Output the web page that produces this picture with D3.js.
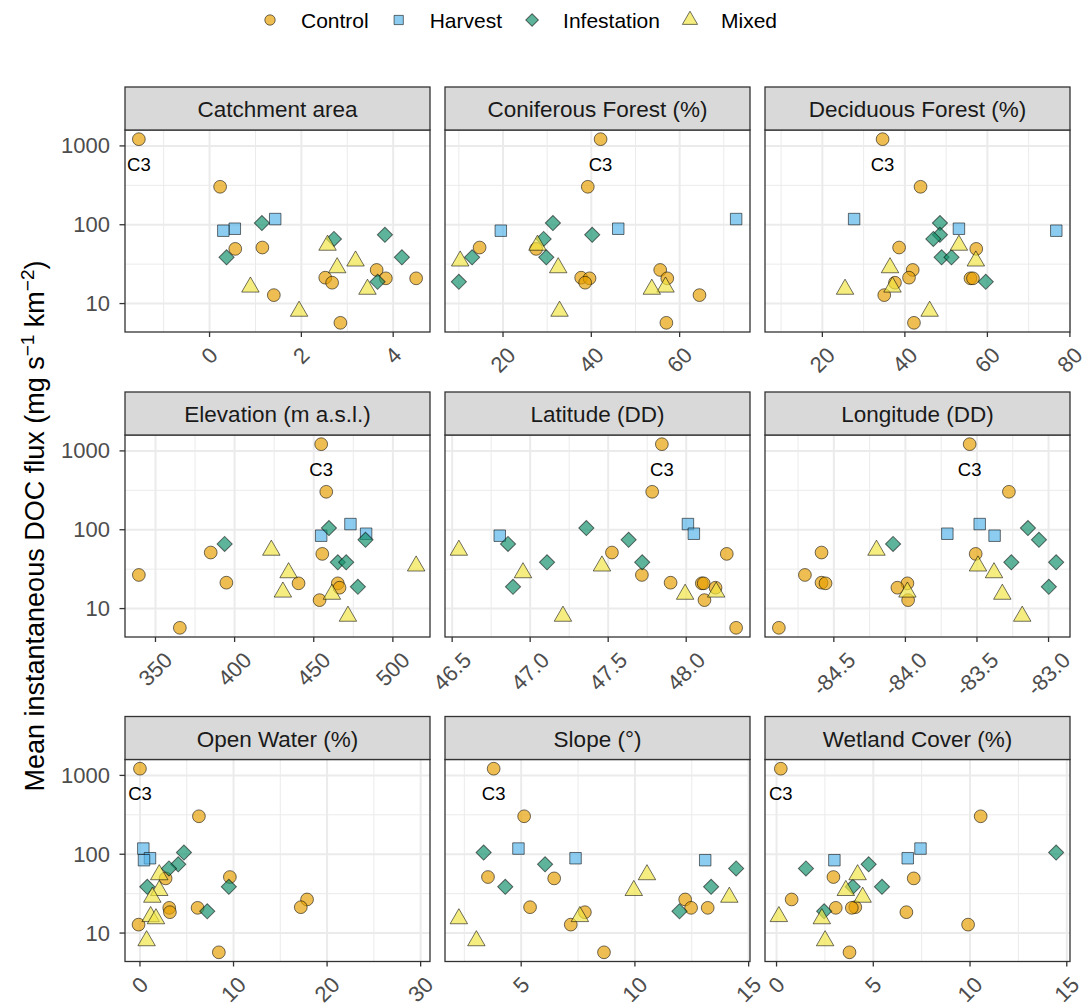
<!DOCTYPE html>
<html><head><meta charset="utf-8">
<script src="https://cdn.jsdelivr.net/npm/d3@7"></script>
<style>
body{margin:0;background:#fff}
text{font-family:"Liberation Sans",Arial,Helvetica,sans-serif}
</style>
</head><body>
<svg id="chart" width="1086" height="1004"></svg>
<script>
// ---------------- DATA ----------------
const treatments = ["Control", "Harvest", "Infestation", "Mixed"];
const treatmentColors = ["#E69F00", "#56B4E9", "#12916A", "#F0E442"];

// one entry per site
const siteTreatment = [
  "Control","Control","Control","Control","Control","Control","Control","Control","Control","Control","Control",
  "Harvest","Harvest","Harvest",
  "Infestation","Infestation","Infestation","Infestation","Infestation","Infestation",
  "Mixed","Mixed","Mixed","Mixed","Mixed","Mixed"
];
const siteLabel = ["C3","","","","","","","","","","","","","","","","","","","","","","","","",""];
const docFlux = [1217, 303, 51.4, 49.4, 26.7, 21.3, 20.9, 20.9, 18.4, 12.8, 5.7,
                 118, 89, 84,
                 105, 74.5, 66, 38.6, 38.6, 18.9,
                 55, 34.7, 28.5, 16.2, 15.2, 8.0];

const catchmentArea = [-1.54, 0.23, 1.15, 0.56, 3.64, 2.52, 3.84, 4.50, 2.67, 1.40, 2.85,
                       1.43, 0.55, 0.30,
                       1.14, 3.82, 2.71, 0.37, 4.19, 3.66,
                       2.57, 3.18, 2.78, 0.89, 3.44, 1.95];
const coniferousForest = [42.1, 39.2, 14.7, 27.5, 55.6, 37.7, 39.6, 57.2, 38.6, 64.5, 57.0,
                          72.8, 46.1, 19.5,
                          31.3, 40.2, 29.2, 13.0, 29.8, 10.0,
                          27.8, 10.3, 32.5, 56.8, 53.7, 32.8];
const deciduousForest = [34.6, 43.8, 38.6, 57.3, 41.9, 41.0, 55.9, 56.5, 37.6, 35.0, 42.2,
                         27.7, 53.1, 76.7,
                         48.5, 48.5, 46.9, 48.9, 51.3, 59.6,
                         53.1, 57.2, 36.4, 37.0, 25.5, 46.0];
const elevation = [454.7, 457.9, 384.9, 455.4, 339.5, 394.8, 440.4, 465.2, 466.3, 453.7, 365.4,
                   473.2, 483.1, 454.7,
                   459.6, 482.7, 393.7, 465.2, 470.5, 477.9,
                   423.2, 514.7, 434.1, 430.5, 461.5, 471.6];
const latitude = [47.844, 47.782, 47.524, 48.260, 47.716, 47.900, 48.100, 48.112, 48.188, 48.117, 48.320,
                  48.011, 48.049, 46.805,
                  47.360, 47.631, 46.858, 47.108, 47.718, 46.890,
                  46.543, 47.460, 46.954, 48.192, 47.993, 47.210];
const longitude = [-83.551, -83.277, -84.586, -83.509, -84.702, -84.586, -84.558, -83.986, -84.056, -83.981, -84.884,
                   -83.481, -83.707, -83.377,
                   -83.144, -83.067, -84.086, -83.260, -82.947, -82.998,
                   -84.202, -83.493, -83.381, -83.986, -83.323, -83.184];
const openWater = [0.0, 6.30, 9.61, 2.74, 17.86, 17.19, 3.13, 6.16, 3.20, -0.15, 8.43,
                   0.36, 1.07, 0.43,
                   4.70, 4.09, 3.10, 0.78, 9.50, 7.19,
                   2.06, 2.06, 1.32, 1.14, 1.71, 0.71];
const slope = [3.79, 5.13, 3.54, 6.45, 12.21, 5.39, 12.47, 13.20, 7.80, 7.18, 8.64,
               4.88, 7.39, 13.09,
               3.35, 6.05, 14.45, 4.30, 13.35, 11.96,
               10.53, 9.95, 14.15, 7.58, 2.26, 3.03];
const wetlandCover = [0.22, 10.55, 2.94, 7.09, 0.78, 4.07, 3.06, 3.89, 6.71, 9.90, 3.77,
                      7.44, 6.78, 2.99,
                      14.45, 4.76, 1.52, 5.45, 3.94, 2.46,
                      4.19, 3.58, 4.45, 0.12, 2.34, 2.51];

const facetTitles = ["Catchment area", "Coniferous Forest (%)", "Deciduous Forest (%)",
                     "Elevation (m a.s.l.)", "Latitude (DD)", "Longitude (DD)",
                     "Open Water (%)", "Slope (°)", "Wetland Cover (%)"];
const facetValues = [catchmentArea, coniferousForest, deciduousForest,
                     elevation, latitude, longitude,
                     openWater, slope, wetlandCover];
const facetTicks = [[0,2,4], [20,40,60], [20,40,60,80],
                    [350,400,450,500], [46.5,47.0,47.5,48.0], [-84.5,-84.0,-83.5,-83.0],
                    [0,10,20,30], [5,10,15], [0,5,10,15]];
const facetTickLabels = [["0","2","4"], ["20","40","60"], ["20","40","60","80"],
                         ["350","400","450","500"], ["46.5","47.0","47.5","48.0"], ["-84.5","-84.0","-83.5","-83.0"],
                         ["0","10","20","30"], ["5","10","15"], ["0","5","10","15"]];
// x limits that extend beyond the plotted points (null = data range + 5%)
const facetLimits = [null, null, [6.1, 80.02], null, null, null, [-1.6, 31.0], null, null];

const yTicks = [10, 100, 1000];
const yTickLabels = ["10", "100", "1000"];

// ---------------- LAYOUT ----------------
const svg = d3.select("#chart");
const colX = [125, 445, 765];
const rowTop = [87, 392, 716.5];
const panelW = 305, stripH = 43, plotH = 202;
const fontLegend = 21, fontAxis = 22, fontStrip = 22.5;

const color = d3.scaleOrdinal().domain(treatments).range(treatmentColors);
const symbolFor = {
  "Control": d3.symbolCircle,
  "Harvest": d3.symbolSquare,
  "Infestation": d3.symbolSquare,
  "Mixed": d3.symbolTriangle
};
const sizeFor = {"Control": 128, "Harvest": 132, "Infestation": 115, "Mixed": 132};
const rotFor = {"Control": 0, "Harvest": 0, "Infestation": 45, "Mixed": 0};

// y scale: log, data range + 5% expansion in log space
const logs = docFlux.map(Math.log10);
const lmin = d3.min(logs), lmax = d3.max(logs), lr = lmax - lmin;
const y = d3.scaleLog()
  .domain([Math.pow(10, lmin - 0.05*lr), Math.pow(10, lmax + 0.05*lr)])
  .range([plotH, 0]);

const yMinor = [0.5, 1.5, 2.5, 3.5].map(v => Math.pow(10, v))
  .filter(v => v > y.domain()[0] && v < y.domain()[1]);

const sites = docFlux.map((f, i) => ({flux: f, treatment: siteTreatment[i], label: siteLabel[i]}));

facetTitles.forEach((title, fi) => {
  const col = fi % 3, row = Math.floor(fi / 3);
  const x0 = colX[col], sTop = rowTop[row], pTop = sTop + stripH;
  const vals = facetValues[fi];
  let dom;
  if (facetLimits[fi]) dom = facetLimits[fi];
  else {
    const mn = d3.min(vals), mx = d3.max(vals), r = mx - mn;
    dom = [mn - 0.05*r, mx + 0.05*r];
  }
  const x = d3.scaleLinear().domain(dom).range([0, panelW]);
  const ticks = facetTicks[fi];
  const step = ticks[1] - ticks[0];
  const xMinor = [];
  ticks.forEach((t, i) => { xMinor.push(t + step/2); if (i === 0) xMinor.push(t - step/2); });
  const xMinorIn = xMinor.filter(v => v > dom[0] && v < dom[1]);

  const g = svg.append("g").attr("transform", `translate(${x0},${pTop})`);
  g.append("rect").attr("width", panelW).attr("height", plotH).attr("fill", "#fff");
  // minor grid
  g.selectAll(".ymin").data(yMinor).enter().append("line")
    .attr("x1", 0).attr("x2", panelW).attr("y1", d => y(d)).attr("y2", d => y(d))
    .attr("stroke", "#EBEBEB").attr("stroke-width", 1);
  g.selectAll(".xmin").data(xMinorIn).enter().append("line")
    .attr("y1", 0).attr("y2", plotH).attr("x1", d => x(d)).attr("x2", d => x(d))
    .attr("stroke", "#EBEBEB").attr("stroke-width", 1);
  // major grid
  g.selectAll(".ymaj").data(yTicks).enter().append("line")
    .attr("x1", 0).attr("x2", panelW).attr("y1", d => y(d)).attr("y2", d => y(d))
    .attr("stroke", "#EBEBEB").attr("stroke-width", 2);
  const ticksIn = ticks.map((t, i) => ({t, lab: facetTickLabels[fi][i]}))
    .filter(d => d.t >= dom[0] - 1e-9 && d.t <= dom[1] + 1e-9);
  g.selectAll(".xmaj").data(ticksIn).enter().append("line")
    .attr("y1", 0).attr("y2", plotH).attr("x1", d => x(d.t)).attr("x2", d => x(d.t))
    .attr("stroke", "#EBEBEB").attr("stroke-width", 2);

  // points
  const pts = g.append("g");
  sites.forEach((s, i) => {
    pts.append("path")
      .attr("d", d3.symbol().type(symbolFor[s.treatment]).size(sizeFor[s.treatment])())
      .attr("transform", `translate(${x(vals[i])},${y(s.flux)}) rotate(${rotFor[s.treatment]})`)
      .attr("fill", color(s.treatment)).attr("fill-opacity", 0.68)
      .attr("stroke", "#000").attr("stroke-opacity", 0.55).attr("stroke-width", 1);
  });
  // labels
  sites.forEach((s, i) => {
    if (!s.label) return;
    const t = g.append("text").text(s.label)
      .attr("font-size", 18.5).attr("fill", "#000")
      .attr("text-anchor", "middle").attr("dominant-baseline", "central")
      .attr("y", y(s.flux) + 25);
    const w = t.node().getComputedTextLength();
    const cx = Math.max(x(vals[i]), w/2 + 1);
    t.attr("x", cx);
  });

  // panel border
  g.append("rect").attr("width", panelW).attr("height", plotH)
    .attr("fill", "none").attr("stroke", "#333").attr("stroke-width", 1.3);

  // strip
  const sg = svg.append("g").attr("transform", `translate(${x0},${sTop})`);
  sg.append("rect").attr("width", panelW).attr("height", stripH)
    .attr("fill", "#D9D9D9").attr("stroke", "#333").attr("stroke-width", 1.3);
  sg.append("text").text(title)
    .attr("x", panelW/2).attr("y", stripH/2 + 1)
    .attr("text-anchor", "middle").attr("dominant-baseline", "central")
    .attr("font-size", fontStrip).attr("fill", "#1A1A1A");

  // x axis ticks + labels
  const ax = svg.append("g").attr("transform", `translate(${x0},${pTop + plotH})`);
  ticksIn.forEach(d => {
    ax.append("line").attr("x1", x(d.t)).attr("x2", x(d.t)).attr("y1", 0).attr("y2", 5)
      .attr("stroke", "#333").attr("stroke-width", 1.3);
    const t = ax.append("text").text(d.lab)
      .attr("font-size", fontAxis).attr("fill", "#4D4D4D")
      .attr("text-anchor", "middle").attr("dominant-baseline", "central");
    const w = t.node().getComputedTextLength();
    const cy = 14 + (w + 15) * 0.354;
    t.attr("transform", `translate(${x(d.t)},${cy}) rotate(-45)`);
  });

  // y axis (left column only)
  if (col === 0) {
    const ay = svg.append("g").attr("transform", `translate(${x0},${pTop})`);
    yTicks.forEach((v, i) => {
      ay.append("line").attr("x1", -5.5).attr("x2", 0).attr("y1", y(v)).attr("y2", y(v))
        .attr("stroke", "#333").attr("stroke-width", 1.3);
      ay.append("text").text(yTickLabels[i])
        .attr("x", -15).attr("y", y(v))
        .attr("text-anchor", "end").attr("dominant-baseline", "central")
        .attr("font-size", fontAxis).attr("fill", "#4D4D4D");
    });
  }
});

// y axis title
const yt = svg.append("text")
  .attr("transform", "translate(44,526) rotate(-90)")
  .attr("text-anchor", "middle").attr("font-size", 27).attr("fill", "#000");
yt.append("tspan").text("Mean instantaneous DOC flux (mg s");
yt.append("tspan").text("\u22121").attr("font-size", 19).attr("baseline-shift", "super");
yt.append("tspan").text(" km");
yt.append("tspan").text("\u22122").attr("font-size", 19).attr("baseline-shift", "super");
yt.append("tspan").text(")");

// legend
const legSizes = {"Control": 85, "Harvest": 85, "Infestation": 80, "Mixed": 100};
let lx = 270;
const lg = svg.append("g");
treatments.forEach(tr => {
  lg.append("path")
    .attr("d", d3.symbol().type(symbolFor[tr]).size(legSizes[tr])())
    .attr("transform", `translate(${lx},20) rotate(${rotFor[tr]})`)
    .attr("fill", color(tr)).attr("fill-opacity", 0.68)
    .attr("stroke", "#000").attr("stroke-opacity", 0.55).attr("stroke-width", 1);
  const t = lg.append("text").text(tr)
    .attr("x", lx + 31).attr("y", 20)
    .attr("dominant-baseline", "central")
    .attr("font-size", fontLegend).attr("fill", "#000");
  const w = t.node().getComputedTextLength();
  lx = lx + 31 + w + 30;
});
</script>
</body></html>
